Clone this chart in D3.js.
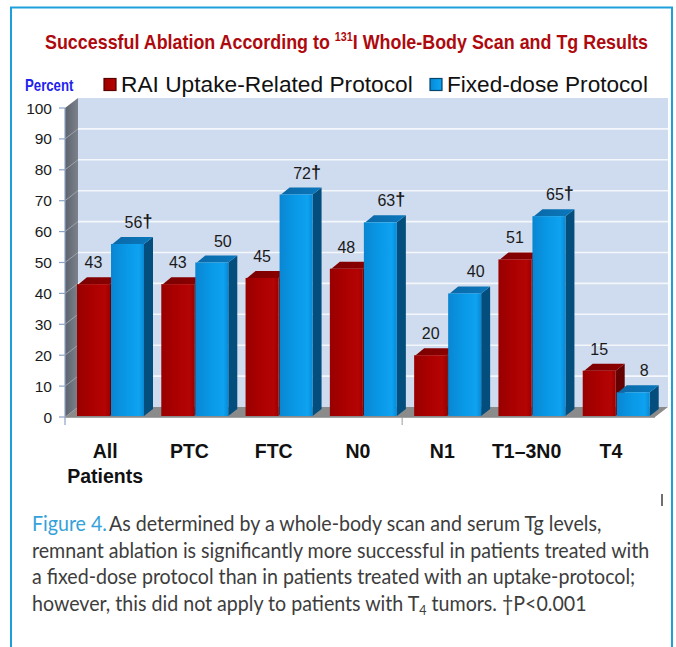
<!DOCTYPE html>
<html>
<head>
<meta charset="utf-8">
<script src="https://cdn.jsdelivr.net/npm/d3@7"></script>
<style>
  html, body { margin: 0; padding: 0; background: #ffffff; }
  svg { display: block; }
</style>
</head>
<body>
<svg id="chart" width="676" height="647"></svg>
<script>
// Ablation success by subgroup, two dosing protocols
const categories = ["All Patients", "PTC", "FTC", "N0", "N1", "T1–3N0", "T4"];
const raiUptake = [43, 43, 45, 48, 20, 51, 15];
const fixedDose = [56, 50, 72, 63, 40, 65, 8];
const fixedSignificant = [true, false, true, true, false, true, false];
const seriesNames = ["RAI Uptake-Related Protocol", "Fixed-dose Protocol"];
const yTicks = [0, 10, 20, 30, 40, 50, 60, 70, 80, 90, 100];

const svg = d3.select("#chart");
const FONT = "'Liberation Sans', Arial, Helvetica, sans-serif";

// Outer frame
svg.append("rect")
  .attr("x", 11).attr("y", 7.5).attr("width", 661).attr("height", 700)
  .attr("fill", "none").attr("stroke", "#1d9fdb").attr("stroke-width", 2);

// Scales
const y = d3.scaleLinear().domain([0, 100]).range([417, 108]);
const x = d3.scaleBand().domain(categories).range([65, 655]);
const inner = d3.scaleBand().domain(["rai", "fixed"]).range([12, 79]).paddingInner(0.03);

// 3-D offsets: walls and bars
const wall = { dx: 13, dy: -10 };
const depth = { dx: 9, dy: -7 };

const defs = svg.append("defs");
function linGrad(id, stops, x2 = "100%", y2 = "0%") {
  const g = defs.append("linearGradient").attr("id", id)
    .attr("x1", "0%").attr("y1", "0%").attr("x2", x2).attr("y2", y2);
  stops.forEach(([o, c]) => g.append("stop").attr("offset", o).attr("stop-color", c));
}
linGrad("sideWall", [["0%", "#5c636d"], ["100%", "#7b828c"]]);
linGrad("redFront", [["0%", "#980000"], ["45%", "#ab0000"], ["85%", "#b40404"], ["100%", "#9c0000"]]);
linGrad("blueFront", [["0%", "#0a86d2"], ["45%", "#0898e6"], ["85%", "#0ea2f0"], ["100%", "#078ad6"]]);
linGrad("redTop", [["0%", "#7a0000"], ["100%", "#8e0000"]]);
linGrad("blueTop", [["0%", "#0a69a8"], ["100%", "#0a78bd"]]);

const xL = x.range()[0], xR = x.range()[1];
const y0 = y(0), yTop = y(100);

// Back wall
svg.append("rect")
  .attr("x", xL + wall.dx).attr("y", yTop + wall.dy)
  .attr("width", (xR + wall.dx) - (xL + wall.dx))
  .attr("height", y0 - yTop)
  .attr("fill", "#cfdbee");

// Side wall
svg.append("polygon")
  .attr("points", [[xL, y0], [xL + wall.dx, y0 + wall.dy], [xL + wall.dx, yTop + wall.dy], [xL, yTop]].join(" "))
  .attr("fill", "url(#sideWall)");

// Gridlines on back and side walls
const grid = yTicks.filter(t => t > 0 && t < 100);
svg.append("g").selectAll("line").data(grid).join("line")
  .attr("x1", xL + wall.dx).attr("x2", xR + wall.dx)
  .attr("y1", d => y(d) + wall.dy).attr("y2", d => y(d) + wall.dy)
  .attr("stroke", "#f4f7fc").attr("stroke-width", 1.6);
svg.append("g").selectAll("line").data(grid).join("line")
  .attr("x1", xL).attr("x2", xL + wall.dx)
  .attr("y1", d => y(d)).attr("y2", d => y(d) + wall.dy)
  .attr("stroke", "#9ba2ab").attr("stroke-width", 1);

// Floor
svg.append("polygon")
  .attr("points", [[xL, y0], [xR, y0], [xR + wall.dx, y0 + wall.dy], [xL + wall.dx, y0 + wall.dy]].join(" "))
  .attr("fill", "#8b8b8b");

// Bars
const series = [
  { key: "rai", values: raiUptake, front: "url(#redFront)", top: "url(#redTop)", side: "#640000" },
  { key: "fixed", values: fixedDose, front: "url(#blueFront)", top: "url(#blueTop)", side: "#044e7d" }
];
const barsG = svg.append("g");
categories.forEach((c, i) => {
  series.forEach(s => {
    const v = s.values[i];
    const fx = x(c) + inner(s.key);
    const w = inner.bandwidth();
    const top = y(v), bot = y(0) - 1;
    const g = barsG.append("g");
    g.append("polygon")
      .attr("points", [[fx + w, top], [fx + w + depth.dx, top + depth.dy], [fx + w + depth.dx, bot + depth.dy], [fx + w, bot]].join(" "))
      .attr("fill", s.side);
    g.append("polygon")
      .attr("points", [[fx + 1.5, top], [fx + depth.dx + 1, top + depth.dy], [fx + w + depth.dx, top + depth.dy], [fx + w, top]].join(" "))
      .attr("fill", s.top);
    g.append("rect")
      .attr("x", fx).attr("y", top).attr("width", w).attr("height", bot - top)
      .attr("fill", s.front);
  });
});

// Axis lines and ticks
const axisG = svg.append("g").attr("stroke", "#8ea4c4").attr("stroke-width", 1.2);
axisG.append("line").attr("x1", xL).attr("x2", xL).attr("y1", yTop).attr("y2", y0 + 8);
axisG.selectAll("line.tick").data(yTicks).join("line").attr("class", "tick")
  .attr("x1", xL - 6).attr("x2", xL).attr("y1", d => y(d)).attr("y2", d => y(d));
svg.append("line").attr("x1", xL).attr("x2", xR).attr("y1", y0 + 0.5).attr("y2", y0 + 0.5)
  .attr("stroke", "#a3a3a3").attr("stroke-width", 1.2);
svg.append("line")
  .attr("x1", x(categories[4])).attr("x2", x(categories[4]))
  .attr("y1", y0).attr("y2", y0 + 8)
  .attr("stroke", "#9a9a9a").attr("stroke-width", 1);

// Y tick labels
svg.append("g").selectAll("text").data(yTicks).join("text")
  .attr("x", 52).attr("y", d => y(d) + 5.5)
  .attr("text-anchor", "end")
  .attr("font-family", FONT).attr("font-size", 15.5).attr("fill", "#1a1a1a")
  .text(d => d);

// Value labels
const labelsG = svg.append("g").attr("font-family", FONT).attr("font-size", 16).attr("fill", "#1a1a1a");
categories.forEach((c, i) => {
  const w = inner.bandwidth();
  const rx = x(c) + inner("rai") + w / 2;
  labelsG.append("text").attr("x", rx).attr("y", y(raiUptake[i]) - 16)
    .attr("text-anchor", "middle").text(raiUptake[i]);
  const bx = x(c) + inner("fixed") + w / 2 + depth.dx + 2;
  const t = labelsG.append("text").attr("x", bx).attr("y", y(fixedDose[i]) - 16)
    .attr("text-anchor", "middle");
  t.append("tspan").text(fixedDose[i]);
  if (fixedSignificant[i]) t.append("tspan").attr("font-size", 18).attr("font-weight", "bold").attr("dy", -1).text("†");
});

// Category labels
const catG = svg.append("g").attr("font-family", FONT).attr("font-size", 19.5)
  .attr("font-weight", "bold").attr("fill", "#111").attr("text-anchor", "middle");
categories.forEach(c => {
  const cx = x(c) + x.bandwidth() / 2 - 2;
  c.split(" ").forEach((part, k) => {
    catG.append("text").attr("x", cx).attr("y", 458 + k * 25).text(part);
  });
});

// Horizontal fit of a text group to a target width
function fitWidth(g, x0, baseline, target) {
  const w = g.node().getBBox().width;
  g.attr("transform", `translate(${x0},${baseline}) scale(${target / w},1)`);
}

// Title
const titleG = svg.append("g");
const title = titleG.append("text").attr("x", 0).attr("y", 0)
  .attr("font-family", FONT).attr("font-weight", "bold").attr("font-size", 20).attr("fill", "#ae0a0e");
title.append("tspan").text("Successful Ablation According to ");
title.append("tspan").attr("font-size", 12).attr("dy", -8).text("131");
title.append("tspan").attr("dy", 8).text("I Whole-Body Scan and Tg Results");
fitWidth(titleG, 45, 49, 603);

// "Percent" axis caption
const pctG = svg.append("g");
pctG.append("text").attr("font-family", FONT).attr("font-weight", "bold")
  .attr("font-size", 16).attr("fill", "#1f22ee").text("Percent");
fitWidth(pctG, 25, 91, 49);

// Legend
const legendItems = [
  { name: seriesNames[0], sx: 104, tx: 121, tw: 292, fill: "url(#redFront)", edge: "#5a0000" },
  { name: seriesNames[1], sx: 430, tx: 447, tw: 201, fill: "url(#blueFront)", edge: "#04466e" }
];
legendItems.forEach(it => {
  svg.append("rect").attr("x", it.sx).attr("y", 78.5).attr("width", 12).attr("height", 12)
    .attr("fill", it.fill).attr("stroke", it.edge).attr("stroke-width", 1.2);
  const g = svg.append("g");
  g.append("text").attr("font-family", FONT).attr("font-size", 22).attr("fill", "#111").text(it.name);
  fitWidth(g, it.tx, 92, it.tw);
});

// Figure caption
const CAP = "'Lato', 'Open Sans', sans-serif";
const capLines = [
  [["Figure 4.", "#35a2d9"], ["As determined by a whole-body scan and serum Tg levels,", "#3d3d3d"]],
  [["remnant ablation is significantly more successful in patients treated with", "#3d3d3d"]],
  [["a fixed-dose protocol than in patients treated with an uptake-protocol;", "#3d3d3d"]],
  [["however, this did not apply to patients with T", "#3d3d3d"], ["4", "#3d3d3d", "sub"], [" tumors. †P<0.001", "#3d3d3d", "after"]]
];
const capG = svg.append("g");
capLines.forEach((parts, k) => {
  const t = capG.append("text").attr("x", 0).attr("y", k * 26.7)
    .attr("font-family", CAP).attr("font-size", 20.5).attr("fill", "#3d3d3d");
  parts.forEach(([str, col, kind], j) => {
    const ts = t.append("tspan").attr("fill", col).text(str);
    if (j === 1 && k === 0) ts.attr("dx", 2);
    if (kind === "sub") ts.attr("font-size", 13).attr("dy", 4);
    if (kind === "after") ts.attr("dy", -4);
  });
});
// Scale the caption block so the longest line spans the text column
{
  const widths = capG.selectAll("text").nodes().map(n => n.getComputedTextLength());
  const k = 618 / d3.max(widths);
  capG.attr("transform", `translate(32,531) scale(${k},1)`);
}

// Small margin mark at the right
svg.append("line").attr("x1", 662).attr("x2", 662).attr("y1", 494).attr("y2", 506)
  .attr("stroke", "#222").attr("stroke-width", 1.3);
</script>
</body>
</html>
